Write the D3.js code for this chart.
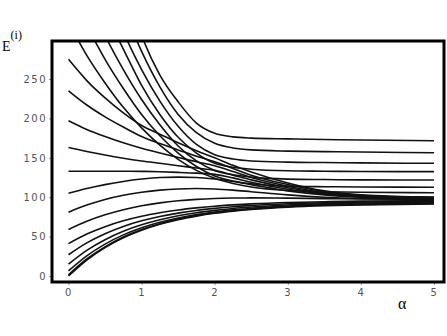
<!DOCTYPE html>
<html>
<head>
<meta charset="utf-8">
<script src="https://cdn.jsdelivr.net/npm/d3@7"></script>
<style>
  body { margin: 0; background: #fff; }
  .tick text { font-family: "DejaVu Sans", sans-serif; font-size: 10px; fill: #555; letter-spacing: 1.5px; }
  .tick line { stroke: #999; }
  .axis-title { font-family: "Liberation Serif", serif; fill: #000; }
</style>
</head>
<body>
<div id="chart"></div>
<script>
// Data: alpha grid and the energy of each level
const alphas = [0, 0.25, 0.5, 0.75, 1, 1.25, 1.5, 1.75, 2, 2.25, 2.5, 3, 3.5, 4, 5];

// levels that start inside the plot at alpha = 0 and close into the band near 95
const bandLevels = [
  [0, 20.3, 36.2, 48.6, 58.1, 65.6, 71.5, 76.0, 79.6, 82.3, 84.5, 87.4, 89.2, 90.3, 91.4],
  [1.5, 21.6, 37.0, 49.5, 59.0, 66.4, 72.2, 76.7, 80.3, 83.0, 85.0, 87.9, 89.8, 90.9, 92.0],
  [6.5, 25.6, 40.5, 52.2, 61.2, 68.2, 73.7, 78.0, 81.3, 84.0, 85.9, 88.7, 90.4, 91.4, 92.4],
  [15, 32.5, 46.0, 56.7, 64.9, 71.3, 76.4, 80.3, 83.3, 85.7, 87.5, 90.1, 91.6, 92.6, 93.5],
  [27, 42.0, 53.7, 62.9, 70.0, 75.5, 79.8, 83.2, 85.8, 87.9, 89.4, 91.6, 93.0, 93.8, 94.5],
  [41, 53.2, 62.6, 70.0, 75.8, 80.2, 83.7, 86.4, 88.6, 90.2, 91.5, 93.3, 94.3, 95.0, 95.6],
  [59, 69.4, 77.6, 84.1, 89.1, 92.8, 95.5, 97.3, 98.4, 98.9, 99.1, 98.8, 98.2, 97.8, 97.2],
  [81, 90, 97.2, 102.5, 106.3, 109, 110.5, 111, 110.5, 109, 107, 103, 100, 98.5, 97.5],
  [105, 111, 116, 120, 123, 125, 125.5, 125, 123, 120, 116, 108, 103, 100, 98],
  [133, 133, 133, 133, 132.8, 132.3, 131.5, 130.5, 129, 124.5, 119, 110, 104, 100.5, 98.5],
  [163, 158, 153.5, 149.5, 146, 143, 140, 137, 134, 128, 122, 112, 105, 101, 99],
  [197, 186, 177, 169, 162, 156, 150.5, 145, 140, 132.5, 125, 114, 106, 102, 99.5],
  [235, 217, 202, 189, 177, 168, 160, 152, 145, 136.5, 128, 116, 107, 102.5, 100],
  [275, 248, 226, 207, 191, 180, 169, 159, 150, 140.5, 132, 118, 108, 103, 100],
];

// levels that come down from above the frame and level off
const steepLevels = [
  [322, 280, 245, 214, 188, 166, 148, 134, 124, 117.5, 113, 108.5, 107, 106.3, 105.7],
  [365, 318, 275, 238, 205, 178, 156, 139, 127, 120.5, 117, 114, 113.3, 113, 112.6],
  [405, 355, 305, 262, 224, 192, 165, 146, 134, 128.5, 125.5, 123, 122.4, 122, 121.8],
  [445, 390, 335, 288, 242, 205, 176, 156, 143, 138, 135.5, 133.5, 133, 132.6, 132.4],
  [490, 430, 370, 310, 262, 222, 190, 167, 154, 148.5, 146, 144.5, 144, 143.5, 143],
  [530, 460, 400, 340, 285, 240, 205, 182, 168.5, 162.5, 160, 158.5, 157.8, 157.3, 156.5],
  [610, 530, 450, 375, 305, 255, 221, 194, 181, 176.5, 175, 174, 173.2, 172.5, 171.7],
];

const xTicks = [0, 1, 2, 3, 4, 5];
const yTicks = [0, 50, 100, 150, 200, 250];

function draw() {
  // Dimensions
  const dimensions = {
    width: 447,
    height: 336,
    frameLeft: 52,
    frameRight: 444,
    frameTop: 41,
    frameBottom: 282,
  };

  const svg = d3
    .select("#chart")
    .append("svg")
    .attr("width", dimensions.width)
    .attr("height", dimensions.height);

  // Scales
  const xScale = d3.scaleLinear().domain([0, 5]).range([68.5, 434]);
  const yScale = d3.scaleLinear().domain([0, 250]).range([276, 79]);

  svg
    .append("clipPath")
    .attr("id", "frame-clip")
    .append("rect")
    .attr("x", dimensions.frameLeft)
    .attr("y", dimensions.frameTop)
    .attr("width", dimensions.frameRight - dimensions.frameLeft)
    .attr("height", dimensions.frameBottom - dimensions.frameTop);

  // Axes
  const xAxis = d3
    .axisBottom(xScale)
    .tickValues(xTicks)
    .tickFormat(d3.format("d"))
    .tickSize(3)
    .tickPadding(4);
  svg
    .append("g")
    .attr("transform", `translate(0, ${dimensions.frameBottom})`)
    .call(xAxis)
    .call((g) => g.select(".domain").remove());

  const yAxis = d3
    .axisLeft(yScale)
    .tickValues(yTicks)
    .tickFormat(d3.format("d"))
    .tickSize(3)
    .tickPadding(2);
  svg
    .append("g")
    .attr("transform", `translate(${dimensions.frameLeft}, 0)`)
    .call(yAxis)
    .call((g) => g.select(".domain").remove());

  // Curves
  const line = d3
    .line()
    .x((d, i) => xScale(alphas[i]))
    .y((d) => yScale(d))
    .curve(d3.curveMonotoneX);

  svg
    .append("g")
    .attr("clip-path", "url(#frame-clip)")
    .selectAll("path")
    .data(bandLevels.concat(steepLevels))
    .join("path")
    .attr("d", line)
    .attr("fill", "none")
    .attr("stroke", "#111")
    .attr("stroke-width", 1.6);

  // Frame
  svg
    .append("rect")
    .attr("x", dimensions.frameLeft)
    .attr("y", dimensions.frameTop)
    .attr("width", dimensions.frameRight - dimensions.frameLeft)
    .attr("height", dimensions.frameBottom - dimensions.frameTop)
    .attr("fill", "none")
    .attr("stroke", "#000")
    .attr("stroke-width", 3);

  // Axis titles
  const eLabel = svg.append("text").attr("class", "axis-title").attr("x", 2).attr("y", 51);
  eLabel.append("tspan").attr("font-size", 14).text("E");
  eLabel.append("tspan").attr("font-size", 12).attr("dy", -12).text("(i)");

  svg
    .append("text")
    .attr("class", "axis-title")
    .attr("x", 398)
    .attr("y", 309)
    .attr("font-size", 16)
    .text("α");
}

draw();
</script>
</body>
</html>
